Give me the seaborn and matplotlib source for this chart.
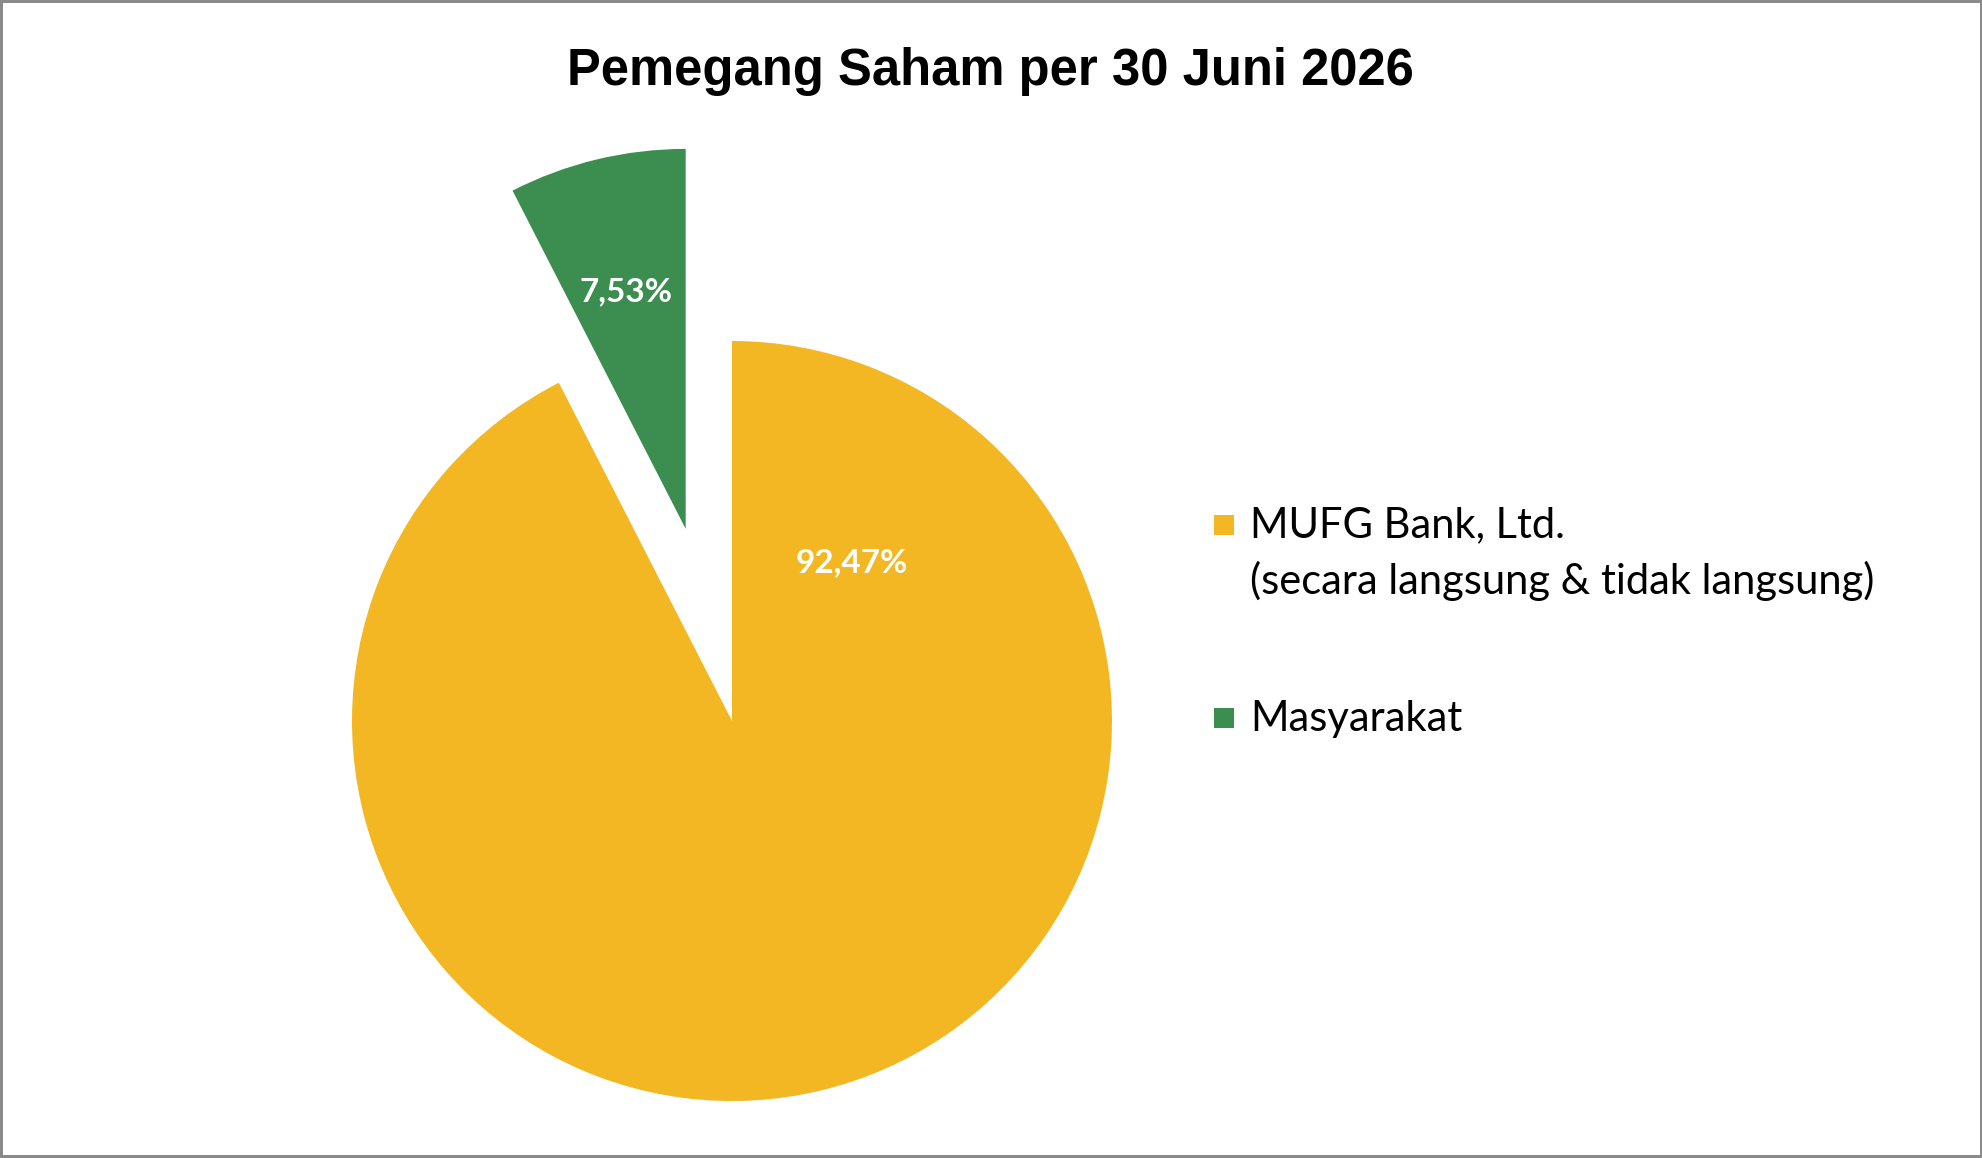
import matplotlib
matplotlib.use('Agg')
import matplotlib.pyplot as plt
import seaborn as sns
from matplotlib.patches import Rectangle

# data
labels = ['MUFG Bank, Ltd.\n(secara langsung & tidak langsung)', 'Masyarakat']
shares = [92.47, 7.53]
colors = ['#F2B722', '#3C8E50']
explode = [0, 0.52]
title = 'Pemegang Saham per 30 Juni 2026'

sns.set_theme(style='white')
plt.rcParams['font.family'] = ['Lato', 'DejaVu Sans']
plt.rcParams['text.color'] = 'black'

W, H = 1983, 1158
fig = plt.figure(figsize=(W / 100, H / 100), dpi=100)
fig.patch.set_facecolor('white')
ax = fig.add_axes([0, 0, 1, 1])

# pie centre (px) and radius (px)
cx, cy, r = 732, 721, 380

wedges, texts, autotexts = ax.pie(
    shares, colors=colors, explode=explode, startangle=90, counterclock=False,
    autopct=lambda p: f'{p:.2f}%'.replace('.', ','),
    textprops=dict(color='white', fontsize=24, fontweight='bold'),
    wedgeprops=dict(linewidth=0))

ax.set_xlim(-cx / r, (W - cx) / r)
ax.set_ylim((cy - H) / r, cy / r)
ax.set_aspect('auto')
ax.axis('off')

# label placement like the original chart
pct_px = [(852, 563), (626, 292)]
for t, (px, py) in zip(autotexts, pct_px):
    t.set_position(((px - cx) / r, (cy - py) / r))
    t.set_ha('center')
    t.set_va('center')

# title
fig.text(990 / W, 1 - 85 / H, title, ha='center', va='baseline', color='black',
         fontsize=36.5, fontweight='bold', family=['Liberation Sans', 'DejaVu Sans'])

# legend drawn on the right
sq = 20
leg_rows = [(525, 537, labels[0].split('\n'), colors[0]),
            (718, 731, [labels[1]], colors[1])]
for mid, base, lines, col in leg_rows:
    fig.add_artist(Rectangle((1214 / W, 1 - (mid + sq / 2) / H), sq / W, sq / H,
                             transform=fig.transFigure, facecolor=col, edgecolor='none'))
    for i, line in enumerate(lines):
        fig.text(1250 / W, 1 - (base + i * 57) / H, line, ha='left', va='baseline',
                 fontsize=30, color='black')

# outer frame
fig.add_artist(Rectangle((0, 0), 1, 1, transform=fig.transFigure, fill=False,
                         edgecolor='#8a8a8a', linewidth=4.3))

fig.savefig('out.png', dpi=100)
